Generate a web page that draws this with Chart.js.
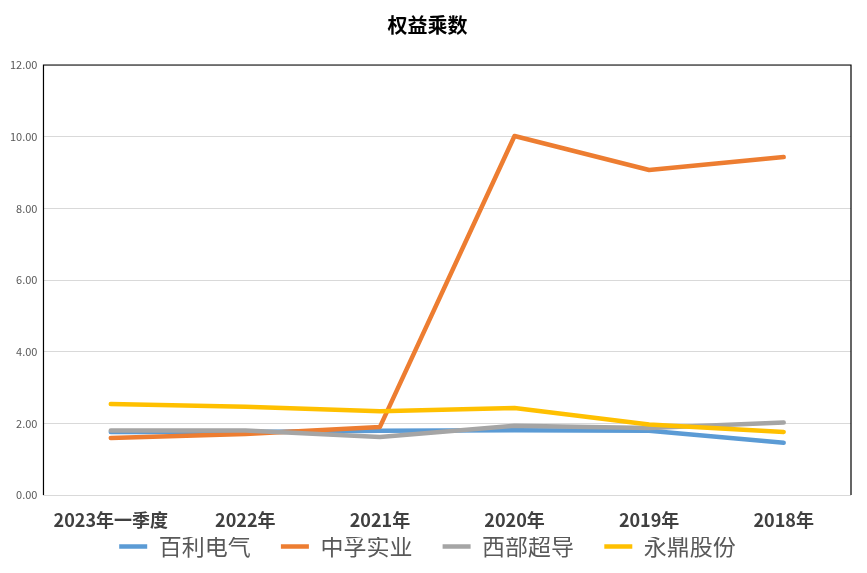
<!DOCTYPE html>
<html>
<head>
<meta charset="utf-8">
<title>权益乘数</title>
<script src="https://cdn.jsdelivr.net/npm/chart.js@4/dist/chart.umd.min.js"></script>
<style>
  html, body { margin: 0; padding: 0; background: #fff; }
  #wrap { width: 867px; height: 573px; position: relative; }
</style>
</head>
<body>
<div id="wrap"><canvas id="grafica"></canvas></div>
<script>
// Datos del gráfico
const periodos = ['2023年一季度', '2022年', '2021年', '2020年', '2019年', '2018年'];
const baili = [1.76, 1.76, 1.79, 1.81, 1.79, 1.46];      // 百利电气
const zhongfu = [1.59, 1.70, 1.90, 10.02, 9.07, 9.43];   // 中孚实业
const xibu = [1.80, 1.80, 1.62, 1.93, 1.87, 2.02];       // 西部超导
const yongding = [2.54, 2.46, 2.34, 2.43, 1.97, 1.76];   // 永鼎股份
const ticksY = [0, 2, 4, 6, 8, 10, 12];

const fuente = '"Noto Sans CJK SC", "Noto Sans", sans-serif';

// Borde negro arriba, izquierda y derecha del área de trazado
const bordeArea = {
  id: 'bordeArea',
  afterDraw(chart) {
    const { ctx, chartArea: a } = chart;
    ctx.save();
    ctx.strokeStyle = '#000';
    ctx.lineWidth = 1.2;
    ctx.beginPath();
    ctx.moveTo(a.left, a.bottom);
    ctx.lineTo(a.left, a.top);
    ctx.lineTo(a.right, a.top);
    ctx.lineTo(a.right, a.bottom);
    ctx.stroke();
    ctx.restore();
  }
};

function serie(label, datos, color, orden) {
  return {
    label: label,
    data: datos,
    borderColor: color,
    backgroundColor: color,
    borderWidth: 4.5,
    borderCapStyle: 'round',
    borderJoinStyle: 'round',
    pointRadius: 0,
    pointHoverRadius: 0,
    tension: 0,
    order: orden
  };
}

const ctx = document.getElementById('grafica').getContext('2d');
new Chart(ctx, {
  type: 'line',
  data: {
    labels: periodos,
    datasets: [
      serie('百利电气', baili, '#5B9BD5', 4),
      serie('中孚实业', zhongfu, '#ED7D31', 3),
      serie('西部超导', xibu, '#A5A5A5', 2),
      serie('永鼎股份', yongding, '#FFC000', 1)
    ]
  },
  plugins: [bordeArea],
  options: {
    responsive: true,
    maintainAspectRatio: false,
    animation: false,
    layout: { padding: { left: 4, right: 16, top: 4, bottom: 5 } },
    plugins: {
      title: {
        display: true,
        text: '权益乘数',
        color: '#000',
        font: { family: fuente, size: 20, weight: 'bold' },
        padding: { top: 9, bottom: 28 }
      },
      legend: {
        position: 'bottom',
        labels: {
          // espacio extra entre elementos de la leyenda sin agrandar su alto
          generateLabels: (chart) => {
            const items = Chart.defaults.plugins.legend.labels.generateLabels(chart);
            items.forEach(it => {
              if (it.datasetIndex !== 3) it.text += '\u2003\u2009\u2009';
            });
            return items;
          },
          sort: (a, b) => a.datasetIndex - b.datasetIndex,
          usePointStyle: true,
          pointStyle: 'line',
          pointStyleWidth: 28,
          boxHeight: 14,
          color: '#595959',
          font: { family: fuente, size: 23, lineHeight: 1 },
          padding: -2
        }
      },
      tooltip: { enabled: false }
    },
    scales: {
      x: {
        offset: true,
        grid: { display: false },
        border: { display: false },
        ticks: {
          color: '#404040',
          font: { family: fuente, size: 18, weight: 'bold', lineHeight: 1 },
          padding: 8,
          maxRotation: 0,
          autoSkip: false
        }
      },
      y: {
        min: 0,
        max: 12,
        afterBuildTicks: (eje) => { eje.ticks = ticksY.map(v => ({ value: v })); },
        grid: { color: '#D9D9D9', lineWidth: 1, drawTicks: false },
        border: { display: false },
        ticks: {
          color: '#595959',
          font: { family: fuente, size: 11 },
          padding: 6,
          callback: (v) => Number(v).toFixed(2)
        }
      }
    }
  }
});
</script>
</body>
</html>
